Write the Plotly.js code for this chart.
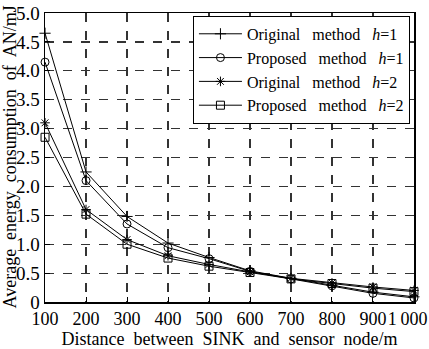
<!DOCTYPE html>
<html><head><meta charset="utf-8">
<script src="https://cdn.plot.ly/plotly-3.0.1.min.js"></script>
<style>body{margin:0;padding:0;background:#fff}#chart{width:429px;height:349px}</style>
</head><body><div id="chart"></div>
<script>
const distances = [100, 200, 300, 400, 500, 600, 700, 800, 900, 1000];
const originalH1 = [4.65, 2.25, 1.48, 1.02, 0.77, 0.54, 0.41, 0.29, 0.17, 0.09];
const proposedH1 = [4.15, 2.10, 1.35, 0.94, 0.75, 0.53, 0.40, 0.28, 0.15, 0.07];
const originalH2 = [3.10, 1.60, 1.08, 0.80, 0.65, 0.52, 0.41, 0.33, 0.26, 0.20];
const proposedH2 = [2.85, 1.52, 1.00, 0.76, 0.62, 0.51, 0.40, 0.32, 0.24, 0.18];
const seriesNames = ['Original   method   <i>h</i>=1', 'Proposed   method   <i>h</i>=1', 'Original   method   <i>h</i>=2', 'Proposed   method   <i>h</i>=2'];
const xTickVals = [100, 200, 300, 400, 500, 600, 700, 800, 900, 1000];
const xTickText = ['100', '200', '300', '400', '500', '600', '700', '800', '900', '1\u2009000\u2002\u2009'];
const yTickVals = [0, 0.5, 1, 1.5, 2, 2.5, 3, 3.5, 4, 4.5, 5];
const yTickText = ['0', '0.5', '1.0', '1.5', '2.0', '2.5', '3.0', '3.5', '4.0', '4.5', '5.0'];
const xTitle = 'Distance  between  SINK  and  sensor  node/m';
const yTitle = 'Average  energy  consumption  of  AN/mJ';

const font = 'Liberation Serif, Times New Roman, serif';
const symbols = ['cross-thin-open', 'circle-open', 'asterisk-open', 'square-open'];
const ys = [originalH1, proposedH1, originalH2, proposedH2];
const traces = ys.map((y, i) => ({
  x: distances, y: y, name: seriesNames[i], type: 'scatter', mode: 'lines+markers',
  line: {color: '#000', width: 1},
  marker: {symbol: symbols[i], size: 8, color: '#000', line: {color: '#000', width: 1}},
  cliponaxis: false
}));

const axisCommon = {
  showline: true, linecolor: '#000', linewidth: 1.5, mirror: true,
  showgrid: true, gridcolor: '#333', griddash: 'dash', gridwidth: 1.2,
  zeroline: false, ticks: 'inside', ticklen: 5, tickcolor: '#000',
  tickfont: {family: font, size: 19, color: '#000'}, automargin: false,
  ticklabeloverflow: 'allow'
};

const layout = {
  width: 429, height: 349,
  margin: {l: 45, r: 15, t: 13, b: 47},
  paper_bgcolor: '#fff', plot_bgcolor: '#fff',
  font: {family: font, color: '#000'},
  showlegend: true,
  legend: {x: 0.989, y: 0.99, xanchor: 'right', yanchor: 'top',
    bgcolor: '#fff', bordercolor: '#000', borderwidth: 1,
    font: {family: font, size: 16, color: '#000'}, tracegroupgap: 0, itemwidth: 43},
  xaxis: Object.assign({}, axisCommon, {
    range: [99.9, 1000.1], tickvals: xTickVals, ticktext: xTickText, tickangle: 0,
    tickfont: {family: font, size: 18, color: '#000'},
    title: {text: xTitle, font: {family: font, size: 18, color: '#000'}, standoff: 0}
  }),
  yaxis: Object.assign({}, axisCommon, {
    range: [0, 5], tickvals: yTickVals, ticktext: yTickText
  }),
  annotations: [{
    text: yTitle, xref: 'paper', yref: 'paper', x: 0, y: 0.5,
    xanchor: 'center', yanchor: 'middle', xshift: -36, textangle: -90, showarrow: false,
    font: {family: font, size: 18, color: '#000'}
  }]
};

Plotly.newPlot('chart', traces, layout, {displayModeBar: false, staticPlot: true});
</script></body></html>
